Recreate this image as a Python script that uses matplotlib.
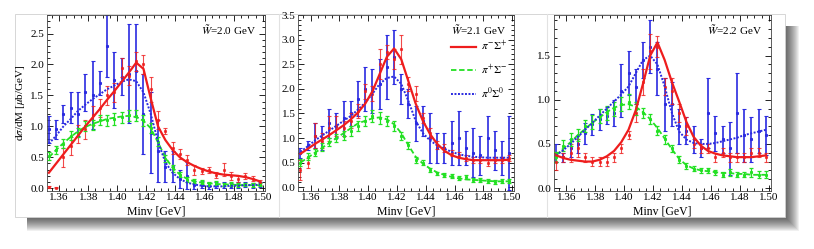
import numpy as np
import matplotlib
matplotlib.use("Agg")
import matplotlib.pyplot as plt
from matplotlib.patches import Rectangle
from matplotlib.ticker import MultipleLocator

plt.rcParams['font.family'] = ['Liberation Serif', 'DejaVu Serif']
plt.rcParams['mathtext.fontset'] = 'stix'

# bin centres (GeV)
minv = [1.353, 1.358, 1.363, 1.368, 1.373, 1.378, 1.383, 1.388, 1.393, 1.398,
        1.403, 1.408, 1.413, 1.418, 1.423, 1.428, 1.433, 1.438, 1.443, 1.448,
        1.453, 1.458, 1.463, 1.468, 1.473, 1.478, 1.483, 1.488, 1.493, 1.498]

panel_labels = ["2.0", "2.1", "2.2"]
channel_labels = [r"$\pi^{-}\Sigma^{+}$", r"$\pi^{+}\Sigma^{-}$", r"$\pi^{0}\Sigma^{0}$"]

# ---- W = 2.0 GeV ----
fit_red_20 = [0.25, 0.40, 0.55, 0.70, 0.85, 1.00, 1.14, 1.28, 1.43, 1.57,
              1.72, 1.87, 2.03, 1.93, 1.45, 1.00, 0.78, 0.62, 0.50, 0.42,
              0.36, 0.31, 0.27, 0.24, 0.22, 0.21, 0.20, 0.18, 0.15, 0.11]
fit_green_20 = [0.50, 0.62, 0.73, 0.83, 0.92, 0.99, 1.04, 1.08, 1.12, 1.14,
                1.16, 1.17, 1.15, 1.09, 0.97, 0.74, 0.50, 0.33, 0.22, 0.15,
                0.11, 0.09, 0.08, 0.07, 0.06, 0.06, 0.05, 0.05, 0.05, 0.05]
fit_blue_20 = [0.72, 0.85, 1.00, 1.12, 1.25, 1.35, 1.44, 1.52, 1.60, 1.66,
               1.72, 1.76, 1.73, 1.55, 1.20, 0.75, 0.42, 0.25, 0.15, 0.09,
               0.06, 0.04, 0.03, 0.03, 0.03, 0.04, 0.04, 0.05, 0.05, 0.06]
dat_red_20 = [0.02, 0.01, 0.50, 0.68, 0.88, 0.95, 1.18, 1.30, 1.50, 1.55,
              1.95, 1.82, 2.05, 2.00, 1.60, 1.10, 0.92, 0.65, 0.55, 0.45,
              0.30, 0.28, 0.30, 0.22, 0.30, 0.20, 0.15, 0.20, 0.15, 0.10]
err_red_20 = [0.01, 0.01, 0.15, 0.15, 0.15, 0.15, 0.15, 0.15, 0.15, 0.15,
              0.15, 0.15, 0.15, 0.15, 0.20, 0.15, 0.05, 0.10, 0.08, 0.08,
              0.08, 0.05, 0.05, 0.05, 0.10, 0.06, 0.05, 0.05, 0.04, 0.04]
dat_green_20 = [0.52, 0.62, 0.72, 0.85, 0.90, 1.00, 1.02, 1.10, 1.10, 1.12,
                1.15, 1.18, 1.17, 1.10, 0.98, 0.75, 0.48, 0.32, 0.22, 0.14,
                0.12, 0.10, 0.07, 0.08, 0.06, 0.07, 0.05, 0.06, 0.05, 0.06]
err_green_20 = [0.06, 0.06, 0.07, 0.07, 0.08, 0.08, 0.08, 0.08, 0.09, 0.09,
                0.09, 0.09, 0.09, 0.09, 0.08, 0.07, 0.06, 0.05, 0.04, 0.04,
                0.03, 0.03, 0.03, 0.03, 0.03, 0.03, 0.03, 0.03, 0.03, 0.03]
dat_blue_20 = [0.95, 0.95, 1.20, 1.30, 1.20, 1.55, 1.50, 1.70, 2.30, 1.75,
               1.80, 1.85, 1.90, 1.20, 0.90, 0.60, 0.35, 0.35, 0.15, 0.20,
               0.05, 0.06, 0.04, 0.05, 0.05, 0.04, 0.05, 0.06, 0.05, 0.06]
err_blue_20 = [0.22, 0.15, 0.15, 0.25, 0.35, 0.30, 0.55, 0.20, 0.50, 0.45,
               0.30, 0.80, 0.75, 0.65, 0.65, 0.50, 0.25, 0.25, 0.15, 0.22,
               0.06, 0.05, 0.05, 0.05, 0.05, 0.04, 0.05, 0.04, 0.04, 0.04]

# ---- W = 2.1 GeV ----
fit_red_21 = [0.68, 0.78, 0.88, 0.97, 1.06, 1.16, 1.26, 1.38, 1.52, 1.70,
              1.95, 2.30, 2.65, 2.82, 2.60, 2.15, 1.70, 1.35, 1.08, 0.88,
              0.74, 0.65, 0.60, 0.57, 0.55, 0.55, 0.55, 0.55, 0.55, 0.56]
fit_green_21 = [0.50, 0.60, 0.70, 0.80, 0.90, 1.00, 1.10, 1.20, 1.30, 1.35,
                1.40, 1.42, 1.38, 1.28, 1.10, 0.85, 0.62, 0.48, 0.38, 0.30,
                0.25, 0.21, 0.18, 0.16, 0.15, 0.14, 0.13, 0.12, 0.12, 0.12]
fit_blue_21 = [0.72, 0.83, 0.95, 1.05, 1.15, 1.25, 1.35, 1.45, 1.58, 1.72,
               1.90, 2.10, 2.22, 2.25, 2.10, 1.75, 1.35, 1.10, 0.95, 0.85,
               0.78, 0.72, 0.67, 0.64, 0.62, 0.61, 0.60, 0.60, 0.60, 0.60]
dat_red_21 = [0.35, 0.50, 1.05, 0.95, 1.20, 1.25, 1.20, 1.35, 1.55, 1.95,
              1.90, 2.50, 2.75, 2.60, 2.80, 2.10, 1.90, 1.40, 1.10, 0.85,
              0.80, 0.70, 0.65, 0.60, 0.55, 0.55, 0.50, 0.55, 0.55, 0.60]
err_red_21 = [0.20, 0.10, 0.25, 0.15, 0.25, 0.20, 0.15, 0.15, 0.15, 0.15,
              0.15, 0.30, 0.15, 0.20, 0.30, 0.15, 0.15, 0.10, 0.10, 0.08,
              0.08, 0.06, 0.06, 0.06, 0.06, 0.06, 0.06, 0.06, 0.06, 0.06]
dat_green_21 = [0.50, 0.62, 0.70, 0.82, 0.92, 1.00, 1.05, 1.15, 1.25, 1.35,
                1.45, 1.40, 1.35, 1.25, 1.05, 0.85, 0.55, 0.50, 0.35, 0.28,
                0.25, 0.22, 0.18, 0.20, 0.15, 0.15, 0.12, 0.10, 0.12, 0.12]
err_green_21 = [0.07, 0.07, 0.07, 0.08, 0.08, 0.09, 0.09, 0.10, 0.10, 0.10,
                0.12, 0.12, 0.10, 0.10, 0.08, 0.07, 0.06, 0.05, 0.05, 0.04,
                0.04, 0.04, 0.04, 0.04, 0.04, 0.04, 0.04, 0.04, 0.04, 0.04]
dat_blue_21 = [0.70, 0.85, 1.05, 1.00, 1.30, 1.25, 1.40, 1.50, 1.80, 2.00,
               1.95, 2.10, 2.45, 2.65, 2.00, 1.70, 1.30, 1.35, 1.00, 0.80,
               0.80, 0.90, 1.00, 0.80, 0.70, 0.65, 1.00, 0.75, 0.60, 0.70]
err_blue_21 = [0.10, 0.10, 0.25, 0.25, 0.30, 0.25, 0.35, 0.25, 0.35, 0.45,
               0.45, 0.50, 0.65, 0.55, 0.30, 0.30, 0.35, 0.30, 0.50, 0.30,
               0.30, 0.45, 0.55, 0.35, 0.50, 0.40, 0.45, 0.40, 0.35, 0.75]

# ---- W = 2.2 GeV ----
fit_red_22 = [0.37, 0.34, 0.32, 0.31, 0.30, 0.30, 0.32, 0.36, 0.42, 0.52,
              0.66, 0.88, 1.18, 1.50, 1.65, 1.45, 1.20, 0.98, 0.75, 0.58,
              0.48, 0.42, 0.39, 0.37, 0.36, 0.35, 0.35, 0.35, 0.36, 0.37]
fit_green_22 = [0.37, 0.45, 0.52, 0.60, 0.67, 0.74, 0.80, 0.86, 0.91, 0.94,
                0.95, 0.92, 0.86, 0.78, 0.68, 0.56, 0.44, 0.33, 0.26, 0.22,
                0.20, 0.19, 0.18, 0.17, 0.17, 0.16, 0.16, 0.15, 0.15, 0.15]
fit_blue_22 = [0.37, 0.43, 0.50, 0.58, 0.66, 0.74, 0.82, 0.90, 0.98, 1.06,
               1.15, 1.30, 1.45, 1.50, 1.40, 1.15, 0.85, 0.64, 0.55, 0.51,
               0.50, 0.50, 0.51, 0.53, 0.55, 0.57, 0.60, 0.62, 0.64, 0.66]
dat_red_22 = [0.30, 0.35, 0.40, 0.45, 0.35, 0.30, 0.30, 0.30, 0.35, 0.45,
              0.60, 0.85, 1.20, 1.55, 1.60, 1.15, 1.10, 0.85, 0.70, 0.50,
              0.45, 0.45, 0.35, 0.40, 0.35, 0.35, 0.35, 0.40, 0.40, 0.35]
err_red_22 = [0.10, 0.05, 0.10, 0.10, 0.05, 0.05, 0.05, 0.05, 0.05, 0.05,
              0.05, 0.10, 0.15, 0.20, 0.12, 0.10, 0.15, 0.10, 0.10, 0.05,
              0.05, 0.05, 0.05, 0.05, 0.05, 0.05, 0.05, 0.05, 0.05, 0.05]
dat_green_22 = [0.35, 0.48, 0.55, 0.60, 0.70, 0.75, 0.82, 0.85, 0.90, 0.95,
                0.98, 0.90, 0.85, 0.78, 0.65, 0.55, 0.45, 0.32, 0.25, 0.22,
                0.20, 0.20, 0.18, 0.15, 0.18, 0.15, 0.15, 0.18, 0.15, 0.15]
err_green_22 = [0.06, 0.06, 0.07, 0.07, 0.07, 0.08, 0.08, 0.08, 0.08, 0.08,
                0.08, 0.07, 0.06, 0.06, 0.05, 0.05, 0.04, 0.04, 0.03, 0.03,
                0.03, 0.03, 0.03, 0.03, 0.04, 0.03, 0.03, 0.05, 0.04, 0.04]
dat_blue_22 = [0.40, 0.35, 0.45, 0.50, 0.62, 0.72, 0.78, 0.82, 0.85, 1.10,
               1.30, 1.15, 1.45, 1.60, 1.35, 0.95, 0.95, 0.70, 0.65, 0.55,
               0.45, 0.85, 0.62, 0.55, 0.45, 0.85, 0.60, 0.55, 0.65, 0.60]
err_blue_22 = [0.10, 0.05, 0.10, 0.10, 0.12, 0.12, 0.12, 0.10, 0.15, 0.30,
               0.25, 0.20, 0.20, 0.30, 0.30, 0.30, 0.25, 0.20, 0.15, 0.15,
               0.10, 0.40, 0.20, 0.15, 0.30, 0.45, 0.30, 0.25, 0.25, 0.22]

panels = [
    (fit_red_20, fit_green_20, fit_blue_20, dat_red_20, err_red_20,
     dat_green_20, err_green_20, dat_blue_20, err_blue_20),
    (fit_red_21, fit_green_21, fit_blue_21, dat_red_21, err_red_21,
     dat_green_21, err_green_21, dat_blue_21, err_blue_21),
    (fit_red_22, fit_green_22, fit_blue_22, dat_red_22, err_red_22,
     dat_green_22, err_green_22, dat_blue_22, err_blue_22),
]

RED = "#ee1d1d"
GREEN = "#22e022"
BLUE = "#2a2ae0"

W, H = 814, 249
fig = plt.figure(figsize=(W / 100, H / 100), dpi=100)
fig.patch.set_facecolor("white")

# background layer in pixel coordinates: one card with a drop shadow (bottom/right only)
bg = fig.add_axes([0, 0, 1, 1], zorder=-1)
bg.set_xlim(0, W)
bg.set_ylim(H, 0)
bg.axis("off")
cx0, cy0, cx1, cy1 = 15, 14, 785, 217
for grow in range(14, -1, -1):
    bg.add_patch(Rectangle((cx0 + 12, cy0 + 12),
                           (cx1 - cx0 - 12) + grow, (cy1 - cy0 - 12) + grow,
                           facecolor="black", alpha=0.06, lw=0))
bg.add_patch(Rectangle((cx0, cy0), cx1 - cx0, cy1 - cy0,
                       facecolor="white", edgecolor="#d0d0d0", lw=0.6))
for sep in (279, 547):
    bg.plot([sep, sep], [cy0, cy1], color="#e2e2e2", lw=0.8)


def px_box(x0, y0, x1, y1):
    return (x0 / W, 1 - y1 / H, (x1 - x0) / W, (y1 - y0) / H)


axes_px = [(46.7, 265.0), (298.3, 514.3), (554.0, 771.0)]
ylims = [(-0.04, 2.8), (-0.07, 3.5), (-0.03, 1.96)]

for k, (xa, xb) in enumerate(axes_px):
    ax = fig.add_axes(list(px_box(xa, 15, xb, 190.7)))
    (fr, fg, fb, dr, er, dg, eg, db, eb) = panels[k]

    ax.errorbar(minv, db, yerr=eb, fmt="s", ms=1.2, color=BLUE, ecolor=BLUE,
                elinewidth=1.2, capsize=1.3, capthick=0.8, zorder=2)
    ax.errorbar(minv, dr, yerr=er, fmt="s", ms=1.2, color=RED, ecolor=RED,
                elinewidth=0.8, capsize=1.3, capthick=0.8, alpha=0.8, zorder=3)
    ax.errorbar(minv, dg, yerr=eg, fmt="s", ms=1.2, color=GREEN, ecolor=GREEN,
                elinewidth=0.9, capsize=1.6, capthick=0.9, zorder=3)

    ax.plot(minv, fr, color=RED, lw=1.6, zorder=5, label=channel_labels[0])
    ax.plot(minv, fg, color=GREEN, lw=1.3, ls=(0, (3, 1.5)), zorder=4, label=channel_labels[1])
    ax.plot(minv, fb, color=BLUE, lw=1.4, ls=(0, (1, 0.8)), zorder=4, label=channel_labels[2])

    ax.set_xlim(1.3515, 1.5015)
    ax.set_ylim(*ylims[k])
    ax.xaxis.set_major_locator(MultipleLocator(0.02))
    ax.xaxis.set_minor_locator(MultipleLocator(0.005))
    ax.yaxis.set_major_locator(MultipleLocator(0.5))
    ax.yaxis.set_minor_locator(MultipleLocator(0.1))
    ax.tick_params(which="both", direction="in", top=True, right=True,
                   labelsize=8, width=0.6, pad=2)
    ax.tick_params(which="major", length=4)
    ax.tick_params(which="minor", length=2)
    ax.xaxis.set_major_formatter(plt.FuncFormatter(lambda v, p: f"{v:.2f}"))
    ax.yaxis.set_major_formatter(plt.FuncFormatter(lambda v, p: f"{v:.1f}"))
    for s in ax.spines.values():
        s.set_linewidth(0.6)
        s.set_color("#444444")
    ax.set_xlabel("Minv [GeV]", fontsize=8.5, labelpad=2)
    ax.text(0.96, 0.955, r"$\tilde{W}$=" + panel_labels[k] + " GeV",
            transform=ax.transAxes, ha="right", va="top", fontsize=8)
    if k == 0:
        ax.set_ylabel(r"d$\sigma$/dM [$\mu$b/GeV]", fontsize=8, labelpad=2)
    if k == 1:
        ax.legend(loc="upper right", bbox_to_anchor=(1.0, 0.9), frameon=False,
                  fontsize=8, handlelength=2.2, handletextpad=0.5,
                  labelspacing=0.8, borderaxespad=0.2)

fig.savefig("out.png", dpi=100)
